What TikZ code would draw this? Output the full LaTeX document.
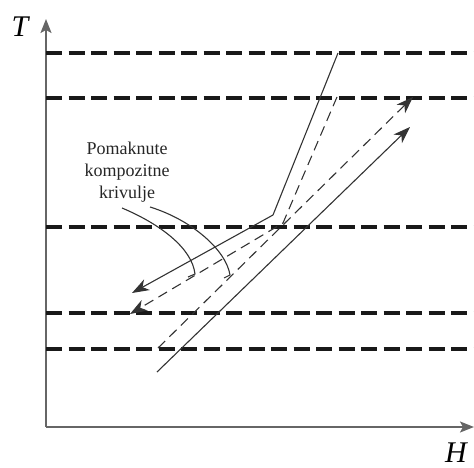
\documentclass[tikz,border=0pt]{standalone}
\usepackage{fontspec}
\setmainfont{Liberation Serif}
\usetikzlibrary{arrows.meta}

\begin{document}
\begin{tikzpicture}[x=1pt,y=-1pt,
  level/.style={line width=3.2pt, black!90, dash pattern=on 16pt off 6.5pt},
  curve/.style={line width=1.1pt, black!80},
  shifted/.style={curve, dash pattern=on 10pt off 6pt},
  tip/.style={-{Stealth[length=17pt,width=12pt,inset=5pt]}},
  axis/.style={black!60, line width=1.6pt, -{Stealth[length=14pt,width=11pt,inset=3pt]}}]
\useasboundingbox (0,0) rectangle (474,468);
% axes
\coordinate (O) at (46,427);
\coordinate (Ttop) at (46,19);
\coordinate (Hend) at (474,427);
\draw[axis] (O) -- (Ttop);
\draw[axis] (O) -- (Hend);
\node[font=\fontsize{30}{30}\selectfont\itshape] (T) at (20,27) {T};
\node[font=\fontsize{30}{30}\selectfont\itshape] (H) at (456,453) {H};
% temperature levels
\foreach \y in {53,98,227,313,349}
  \draw[level] (46,\y) -- (474,\y);
% original curves
\coordinate (hot1) at (338,53);
\coordinate (hot2) at (273,215);
\coordinate (hot3) at (132,293);
\coordinate (cold1) at (157,372);
\coordinate (cold2) at (410,127);
\draw[curve,tip] (hot1) -- (hot2) -- (hot3);
\draw[curve,tip] (cold1) -- (cold2);
% shifted curves
\coordinate (shot1) at (337,97);
\coordinate (shot2) at (283,223);
\coordinate (shot3) at (130,314);
\coordinate (scold1) at (158,348);
\coordinate (scold2) at (413,97);
\draw[shifted,tip] (shot1) -- (shot2) -- (shot3);
\draw[shifted,tip] (scold1) -- (scold2);
% label with leaders
\node[align=center, font=\fontsize{18}{22}\selectfont, black!85] (lbl) at (127,172)
  {Pomaknute\\kompozitne\\krivulje};
\coordinate (lead1) at (122,208);
\coordinate (lead2) at (150,207);
\draw[curve] (lead1) .. controls (160,224) and (192,248) .. (195,274) -- (188,277);
\draw[curve] (lead2) .. controls (192,220) and (226,250) .. (230,275) -- (224,278);
\end{tikzpicture}
\end{document}
